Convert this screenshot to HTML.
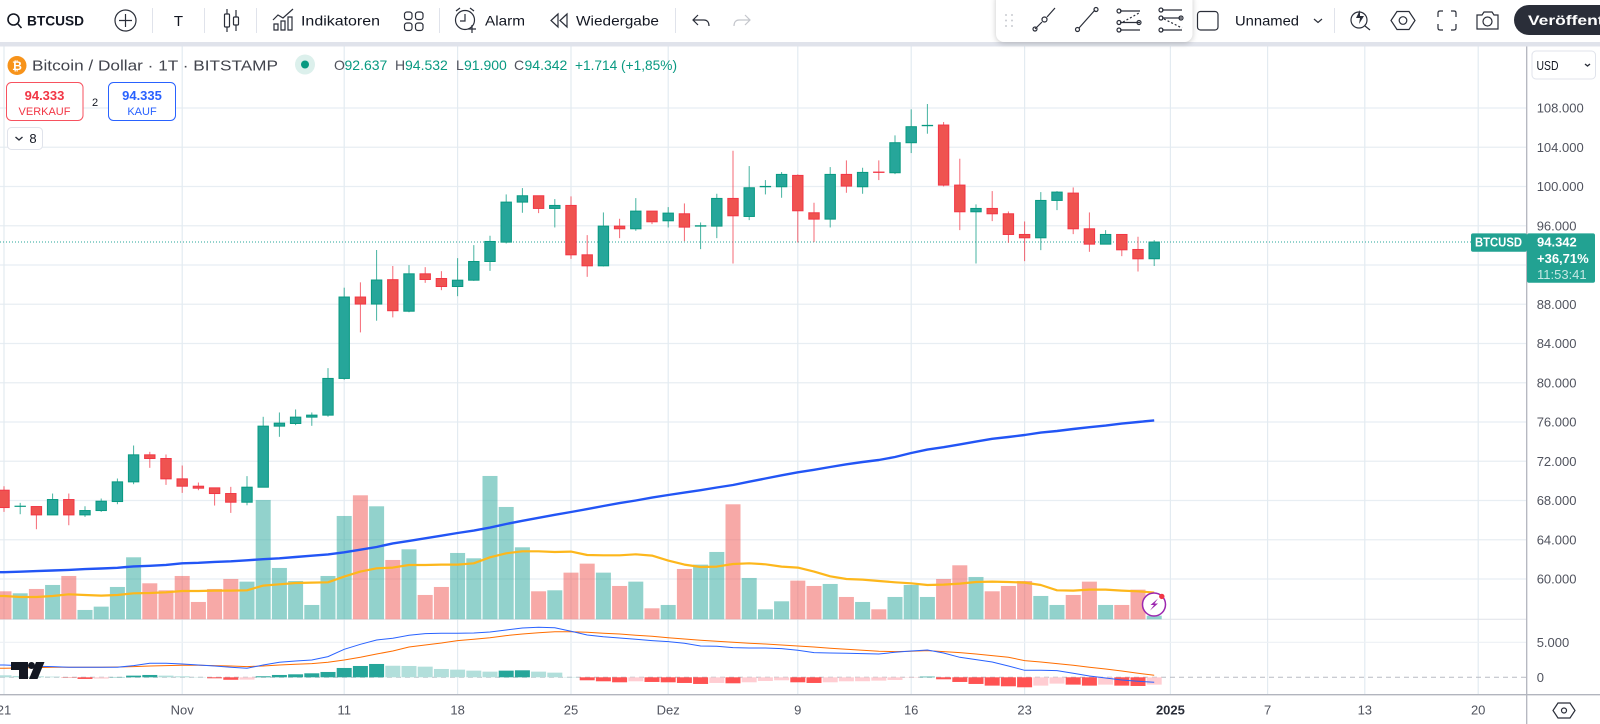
<!DOCTYPE html>
<html lang="de">
<head>
<meta charset="utf-8">
<title>BTCUSD Chart</title>
<style>
html,body{margin:0;padding:0;background:#fff;width:1600px;height:724px;overflow:hidden}
svg{display:block;font-family:"Liberation Sans",sans-serif}
text{fill:#131722}
.ic{fill:none;stroke:#2a2e39;stroke-width:1.2}
.ax{font-size:13px;fill:#50535e}
</style>
</head>
<body>
<svg id="chart" width="1600" height="724" viewBox="0 0 1600 724" xmlns="http://www.w3.org/2000/svg">
<g id="plot"></g>

<!-- top toolbar -->
<g>
<rect x="0" y="0" width="1600" height="42" fill="#fff"/>
<rect x="0" y="42" width="1600" height="4.5" fill="#e0e3eb"/>
<g>
<circle class="ic" cx="13.5" cy="19.5" r="5.5" style="stroke:#131722;stroke-width:1.6"/><path class="ic" d="M17.5 23.5L21.5 28" style="stroke:#131722;stroke-width:1.6"/>
<text x="27" y="25.5" font-size="14" font-weight="bold" textLength="57" lengthAdjust="spacingAndGlyphs">BTCUSD</text></g>
<g><circle class="ic" cx="125.5" cy="20.5" r="10.5"/><path class="ic" d="M125.5 14v13M119 20.5h13"/></g>
<rect x="152" y="8" width="1" height="25" fill="#e0e3eb"/>
<text x="178.5" y="26" font-size="15" text-anchor="middle">T</text>
<rect x="204" y="8" width="1" height="25" fill="#e0e3eb"/>
<g><rect class="ic" x="224.5" y="14" width="5" height="13" rx="1"/><path class="ic" d="M227 9v5M227 27v5M236 10v7M236 25v6"/><rect class="ic" x="233.5" y="17" width="5" height="8" rx="1"/></g>
<rect x="256" y="8" width="1" height="25" fill="#e0e3eb"/>
<g><path class="ic" d="M273 20l5-5 5 3 10-9M274 24h4v6h-4zM281 21h4v9h-4zM288 17h4v13h-4z"/>
<text x="301" y="25.5" font-size="14" textLength="79" lengthAdjust="spacingAndGlyphs">Indikatoren</text></g>
<g><rect class="ic" x="404.5" y="12" width="7.5" height="7.5" rx="2.5"/><rect class="ic" x="415.5" y="12" width="7.5" height="7.5" rx="2.5"/><rect class="ic" x="404.5" y="23" width="7.5" height="7.5" rx="2.5"/><rect class="ic" x="415.5" y="23" width="7.5" height="7.5" rx="2.5"/></g>
<rect x="439" y="8" width="1" height="25" fill="#e0e3eb"/>
<g><circle class="ic" cx="465" cy="20" r="9.5"/><path class="ic" d="M465 14v7h-5M456 11l4-3M474 11l-4-3M472 25v8M468 29h8"/>
<text x="485" y="25.5" font-size="14" textLength="40" lengthAdjust="spacingAndGlyphs">Alarm</text></g>
<g><path class="ic" d="M558 14l-7 6.500 7 6.500zM567 14l-7 6.500 7 6.500z"/>
<text x="576" y="25.5" font-size="14" textLength="83" lengthAdjust="spacingAndGlyphs">Wiedergabe</text></g>
<rect x="675" y="8" width="1" height="25" fill="#e0e3eb"/>
<path class="ic" d="M698 15l-5 5 5 5M693 20h11c3 0 5 2 5 6"/>
<path class="ic" style="stroke:#c4c6cc" d="M745 15l5 5-5 5M750 20h-11c-3 0-5 2-5 6"/>
<g>
<rect x="996" y="-8" width="196.500" height="50" rx="8" fill="#fff" style="filter:drop-shadow(0 1px 3px rgba(0,0,0,.22))"/>
<g fill="#c9cbd1"><circle cx="1006" cy="15" r="1"/><circle cx="1012" cy="15" r="1"/><circle cx="1006" cy="20.500" r="1"/><circle cx="1012" cy="20.500" r="1"/><circle cx="1006" cy="26" r="1"/><circle cx="1012" cy="26" r="1"/></g>
<g><path class="ic" d="M1035 29l7-7M1047 17l8-9"/><circle class="ic" cx="1035" cy="29" r="2"/><circle class="ic" cx="1044.500" cy="19.500" r="2.500"/></g>
<g><path class="ic" d="M1079 28l16-18"/><circle class="ic" cx="1077.500" cy="29.500" r="2"/><circle class="ic" cx="1096" cy="9.500" r="2"/></g>
<g><path class="ic" d="M1120 11h20M1120 22.500h20M1120 30h20"/><path class="ic" stroke-dasharray="2 2" d="M1123 22l16-9"/><circle class="ic" cx="1119" cy="11" r="2"/><circle class="ic" cx="1119" cy="22.500" r="2"/><circle class="ic" cx="1139" cy="22.500" r="2"/><circle class="ic" cx="1119" cy="30" r="2"/></g>
<g><path class="ic" d="M1162 10h20M1162 18h20M1162 30h20"/><path class="ic" stroke-dasharray="2 2" d="M1164 19l18 9"/><circle class="ic" cx="1161" cy="10" r="2"/><circle class="ic" cx="1161" cy="18" r="2"/><circle class="ic" cx="1181" cy="18" r="2"/><circle class="ic" cx="1161" cy="30" r="2"/></g>
</g>
<rect class="ic" x="1197.500" y="11.500" width="20.500" height="18.500" rx="3"/>
<text x="1235" y="25.500" font-size="14" textLength="64" lengthAdjust="spacingAndGlyphs">Unnamed</text>
<path class="ic" d="M1314 19l4 3.500 4-3.500"/>
<rect x="1334" y="8" width="1" height="25" fill="#e0e3eb"/>
<g><circle class="ic" cx="1359" cy="20" r="8"/><path class="ic" d="M1365 26l5 4"/><path d="M1360 10l-4 8h4l-1 6 5-8h-4z" fill="#2a2e39"/></g>
<g><path class="ic" d="M1397 11.500h12l6 9-6 9h-12l-6-9z"/><circle class="ic" cx="1403" cy="20.500" r="3.800"/></g>
<path class="ic" d="M1438 17v-4q0-2 2-2h3M1451 11h3q2 0 2 2v4M1456 24v4q0 2-2 2h-3M1443 30h-3q-2 0-2-2v-4"/>
<g><path class="ic" d="M1477 15h5l2-3h8l2 3h4v14h-21z"/><circle class="ic" cx="1487.500" cy="21.500" r="4.500"/></g>
<g><rect x="1514" y="5" width="130" height="30" rx="15" fill="#2a2e39"/>
<text x="1528" y="25" font-size="14" font-weight="bold" textLength="126" lengthAdjust="spacingAndGlyphs" style="fill:#fff">Veröffentlichen</text></g>
</g>

<!-- legend -->
<g>
<circle cx="17" cy="65.500" r="9.500" fill="#f7931a"/>
<text x="17" y="70" font-size="12" font-weight="bold" text-anchor="middle" style="fill:#fff">₿</text>
<text x="32" y="70.500" font-size="15" style="fill:#42444d" textLength="246" lengthAdjust="spacingAndGlyphs">Bitcoin / Dollar · 1T · BITSTAMP</text>
<circle cx="305" cy="64.500" r="10" fill="#dcf0ec"/><circle cx="305" cy="64.500" r="4" fill="#089981"/>
<g font-size="14">
<text x="334" y="70" style="fill:#50535e">O</text><text x="344.500" y="70" style="fill:#089981">92.637</text>
<text x="395" y="70" style="fill:#50535e">H</text><text x="405" y="70" style="fill:#089981">94.532</text>
<text x="456" y="70" style="fill:#50535e">L</text><text x="464" y="70" style="fill:#089981">91.900</text>
<text x="514" y="70" style="fill:#50535e">C</text><text x="524.500" y="70" style="fill:#089981">94.342</text>
<text x="575" y="70" style="fill:#089981" textLength="102" lengthAdjust="spacingAndGlyphs">+1.714 (+1,85%)</text>
</g>
<g><rect x="6.500" y="82.500" width="76.500" height="38" rx="5" fill="#fff" stroke="#f7525f"/>
<text x="44.500" y="100" font-size="13" font-weight="bold" text-anchor="middle" style="fill:#f23645">94.333</text>
<text x="44.500" y="115" font-size="11" text-anchor="middle" style="fill:#f23645">VERKAUF</text></g>
<text x="95" y="106" font-size="11" text-anchor="middle">2</text>
<g><rect x="108.500" y="82.500" width="67" height="38" rx="5" fill="#fff" stroke="#2962ff"/>
<text x="142" y="100" font-size="13" font-weight="bold" text-anchor="middle" style="fill:#2962ff">94.335</text>
<text x="142" y="115" font-size="11" text-anchor="middle" style="fill:#2962ff">KAUF</text></g>
<g><rect x="7.500" y="127.500" width="35" height="22" rx="4" fill="#fff" stroke="#e0e3eb"/>
<path class="ic" d="M15.500 137l3.500 3 3.500-3" style="stroke-width:1.400"/><text x="33" y="143" font-size="13" text-anchor="middle">8</text></g>
</g>

<!-- right axis controls -->
<g><rect x="1532" y="51" width="63.500" height="28" rx="4" fill="#fff" stroke="#e0e3eb"/>
<text x="1536.500" y="70" font-size="13" textLength="22" lengthAdjust="spacingAndGlyphs">USD</text>
<path class="ic" d="M1585 64l2.500 2 2.500-2" style="stroke-width:1.400"/></g>
<path class="ic" d="M1558 703h12l5 7.500-5 7.500h-12l-5-7.500z"/>
<circle class="ic" cx="1564" cy="710.500" r="2.500"/>

<!-- TradingView logo -->
<g fill="#131722">
<path d="M11 662h17v17h-9v-9h-8z"/><circle cx="31.500" cy="665.500" r="3.500"/><path d="M36 662h8.500l-7 17h-8.500z"/></g>

<!-- lightning badge -->
<g>
<circle cx="1154" cy="604.500" r="11.500" fill="#fff" stroke="#9c27b0" stroke-width="1.500"/>
<path d="M1158 598.500l-7.500 6.500h3.500l-4 5.500 8-7h-3.500z" fill="#9c27b0"/>
<circle cx="1161.800" cy="596.400" r="2.700" fill="#f23645"/></g>

<script>
const tickPrices = [108000,104000,100000,96000,92000,88000,84000,80000,76000,72000,68000,64000,60000];
const timeTickIndex = [0,11,21,28,35,41,49,56,63,72,78,84,91];
const timeTickLabels = ['21','Nov','11','18','25','Dez','9','16','23','2025','7','13','20'];
const macdTickValues = [5000,0];
const macdTickLabels = ['5.000','0'];
const lastPrice = 94342;

const dates = ['21.10','22.10','23.10','24.10','25.10','26.10','27.10','28.10','29.10','30.10','31.10',
'01.11','02.11','03.11','04.11','05.11','06.11','07.11','08.11','09.11','10.11','11.11','12.11','13.11','14.11','15.11','16.11','17.11','18.11','19.11','20.11','21.11','22.11','23.11','24.11','25.11','26.11','27.11','28.11','29.11','30.11',
'01.12','02.12','03.12','04.12','05.12','06.12','07.12','08.12','09.12','10.12','11.12','12.12','13.12','14.12','15.12','16.12','17.12','18.12','19.12','20.12','21.12','22.12','23.12','24.12','25.12','26.12','27.12','28.12','29.12','30.12','31.12'];

const opens = [69050,67400,67384,66534,68098,66534,66976,67894,69900,72654,72280,70206,69458,69288,68710,67826,69356,75578,75850,76496,76700,80440,88736,88022,90504,87292,91100,90624,89808,90454,92358,94330,98410,99056,97764,98070,93038,91916,95962,95690,97492,96506,97220,95962,95962,98784,96948,99974,99974,101130,97322,96676,101232,99974,101470,101402,104462,106196,106264,100144,97424,97764,97220,95112,94772,98580,99328,95690,94126,95112,93582,92637];
const highs = [69458,67758,67384,68710,68710,67418,68200,70240,73606,72960,72688,71566,69832,69288,69390,70478,76530,76972,77278,76972,81494,89688,90232,93530,91898,91984,91780,91372,92698,94024,94976,99192,99838,99056,98716,98988,95044,97356,96710,98818,97492,97900,98274,96336,99260,103646,102082,100654,101470,101232,98342,101980,102660,101912,102660,105210,107862,108406,106570,102830,98172,99532,97458,96438,99430,99532,99906,97356,95554,95112,94874,94532];
const lows = [66840,66602,65072,66534,65480,66330,66840,67622,69662,71328,69594,68778,69050,67486,66738,67520,69356,74490,75680,75612,76530,80304,85132,86322,86662,87190,90182,89434,88822,90386,91406,94194,97322,97288,95826,92630,90794,91848,94738,95486,96166,95826,94432,93616,94738,92154,96574,99192,98852,94296,94330,95826,99362,99260,100654,101266,103408,105380,100008,95554,92154,96472,94262,92392,93514,97594,95146,93344,94126,92902,91338,91900];
const closes = [67282,67420,66534,68098,66534,66976,67928,69900,72654,72280,70206,69458,69254,68710,67826,69356,75578,75884,76496,76700,80440,88736,88022,90470,87342,91100,90522,89808,90454,92358,94398,98410,99056,97764,98070,93038,91916,95962,95690,97492,96404,97288,95860,96000,98784,97016,99872,100008,101232,97526,96676,101232,100042,101436,101436,104462,106094,106230,100144,97424,97764,97220,95112,94772,98580,99430,95690,94126,95112,93548,92630,94342];

const volumes = [8400,7800,9100,10300,13000,2800,3800,9700,18600,10800,8700,13000,5200,9100,12100,11300,35800,15400,11500,4300,13000,31000,37200,33900,17800,21000,7300,9700,19900,18300,43000,33700,21600,8400,8700,14000,16700,14000,10000,11300,3300,4300,15100,16400,20200,34500,12400,3000,5400,11600,10000,10600,6700,5200,3000,6700,10300,6700,12100,16200,12700,8400,10000,11500,7000,4300,7300,11300,4300,4300,8900,1100];
const volumeMa = [7000,6700,6700,7000,7500,7300,7100,7300,7800,7900,8100,8500,8500,8600,8600,8700,10100,10500,10900,11000,11100,12800,14300,15300,15500,16300,16300,16400,16400,16800,18600,19800,20400,20400,20200,20300,19300,19200,19200,19500,19100,17600,16400,15700,15800,16600,16800,16500,15800,15500,14300,12900,12100,11900,11500,11100,10800,10300,10400,10700,11200,11300,11200,11000,10300,8700,8600,8900,8900,8600,8400,8000];

const ma200 = [60688,60739,60800,60871,60932,61004,61065,61146,61279,61350,61432,61595,61656,61738,61799,61901,62013,62105,62247,62370,62512,62726,62981,63266,63623,63878,64143,64408,64692,64937,65243,65610,65936,66241,66547,66832,67120,67444,67730,67995,68300,68565,68810,69053,69320,69583,69920,70245,70570,70876,71132,71417,71692,71927,72131,72436,72843,73190,73435,73720,74005,74290,74474,74678,74922,75085,75290,75473,75636,75840,76003,76167];

const macdLine = [1761,1666,1571,1523,1428,1428,1428,1428,1666,1999,1999,1904,1761,1618,1428,1285,1761,2142,2332,2475,2951,3998,4712,5331,5569,5998,6236,6283,6283,6331,6474,6759,7045,7140,7092,6569,6045,5807,5617,5426,5236,5093,4855,4474,4427,4236,4189,4189,4094,3856,3522,3475,3427,3380,3332,3570,3760,3903,3475,2856,2523,2190,1618,1000,1000,952,571,190,-95,-381,-571,-714];
const signalLine = [1285,1333,1380,1428,1428,1428,1428,1476,1523,1618,1666,1714,1714,1666,1618,1523,1618,1761,1856,1952,2142,2475,2856,3332,3760,4332,4617,4903,5236,5426,5664,5950,6188,6378,6521,6521,6426,6283,6188,5998,5855,5664,5474,5284,5141,4998,4855,4760,4617,4474,4332,4141,3998,3856,3713,3665,3713,3808,3665,3522,3332,3094,2856,2380,2190,1952,1714,1428,1190,904,571,286];
const macdHist = [286,190,143,95,-48,-238,-190,48,238,333,238,143,48,-143,-357,-333,143,333,428,571,762,1333,1618,1904,1650,1620,1523,1190,1095,952,809,952,1000,809,666,48,-428,-571,-714,-571,-666,-714,-809,-952,-809,-857,-714,-524,-428,-714,-809,-714,-571,-560,-476,-381,-48,95,-286,-666,-952,-1190,-1285,-1428,-1190,-904,-1047,-1190,-1047,-1190,-1238,-1047];

const NS = 'http://www.w3.org/2000/svg';
const plot = document.getElementById('plot');
const svgRoot = document.getElementById('chart');

function xOf(i){ return 4 + 16.2 * i; }
function yPrice(p){ return 108 + (108000 - p) * 0.0098125; }
function yVol(v){ return 619.3 - v / 300; }
function yMacd(v){ return 677.3 - v * 0.007; }

function mk(tag, attrs, parent){
  const el = document.createElementNS(NS, tag);
  for (const k in attrs) el.setAttribute(k, attrs[k]);
  (parent || plot).appendChild(el);
  return el;
}

/* grid */
tickPrices.forEach(function(p){
  const el = mk('line', {x1:0, x2:1526, y1:yPrice(p), y2:yPrice(p), stroke:'#e8eef3', 'stroke-width':1.2});
  
  
});
timeTickIndex.forEach(function(i){
  const el = mk('line', {x1:xOf(i), x2:xOf(i), y1:46, y2:694, stroke:'#e3ebf1', 'stroke-width':1.2});
  
  
});
{
  const g5 = mk('line', {x1:0, x2:1526, y1:yMacd(macdTickValues[0]), y2:yMacd(macdTickValues[0]), stroke:'#edf1f5', 'stroke-width':1.2});
  
  
  const g0 = mk('line', {x1:0, x2:1526, y1:yMacd(0), y2:yMacd(0), stroke:'#b8bbc4', 'stroke-width':1, 'stroke-dasharray':'5 4'});
  
  
  const sep = mk('line', {x1:0, x2:1526, y1:619.3, y2:619.3, stroke:'#dfe2e8', 'stroke-width':1});
  
  
}

/* volume */
volumes.forEach(function(v, i){
  const up = closes[i] >= opens[i];
  const el = mk('rect', {x:xOf(i)-7.5, y:yVol(v), width:15, height:v/300, fill: up ? 'rgba(38,166,154,.5)' : 'rgba(239,83,80,.5)'});
  
  
});

function linePath(values, yFn){
  const start = 'M0 ' + yFn(values[0]).toFixed(1);
  return start + values.map(function(v, i){ return 'L' + xOf(i).toFixed(1) + ' ' + yFn(v).toFixed(1); }).join('');
}
const volMaEl = mk('path', {d:linePath(volumeMa, yVol), fill:'none', stroke:'#fdb71c', 'stroke-width':2.2, 'stroke-linejoin':'round'});


const maEl = mk('path', {d:linePath(ma200, yPrice), fill:'none', stroke:'#2255f5', 'stroke-width':2.4, 'stroke-linejoin':'round'});



/* last price line */
const lastLine = mk('line', {x1:0, x2:1471, y1:yPrice(lastPrice), y2:yPrice(lastPrice), stroke:'#26a69a', 'stroke-width':1, 'stroke-dasharray':'1 2'});



/* candles */
closes.forEach(function(c, i){
  const o = opens[i];
  const up = c >= o;
  const edge = up ? '#089981' : '#f23645';
  const fill = up ? '#26a69a' : '#ef5350';
  const x = xOf(i);
  const wick = mk('line', {x1:x, x2:x, y1:yPrice(highs[i]), y2:yPrice(lows[i]), stroke:edge, 'stroke-width':1, 'stroke-opacity':.75});
  
  
  const top = yPrice(Math.max(o, c));
  const h = Math.abs(yPrice(o) - yPrice(c));
  const body = mk('rect', {x:x-5.2, y:top, width:10.4, height:h, fill:fill, stroke:edge, 'stroke-width':1});
  
  
});

/* macd */
macdHist.forEach(function(v, i){
  const prev = i ? macdHist[i-1] : v;
  let col;
  if (v >= 0) col = v > prev ? '#26a69a' : '#b2dfdb';
  else col = v < prev ? '#ff5252' : '#ffcdd2';
  const y0 = yMacd(Math.max(v, 0));
  const el = mk('rect', {x:xOf(i)-7.5, y:y0, width:15, height:Math.abs(yMacd(v)-yMacd(0)), fill:col});
  
  
});
const sigEl = mk('path', {d:linePath(signalLine, yMacd), fill:'none', stroke:'#ff6d00', 'stroke-width':1});


const macdEl = mk('path', {d:linePath(macdLine, yMacd), fill:'none', stroke:'#2962ff', 'stroke-width':1});



/* axes */
const timeAxis = mk('line', {x1:0, x2:1600, y1:694.7, y2:694.7, stroke:'#b2b5be', 'stroke-width':1.3});


const priceAxis = mk('line', {x1:1526.7, x2:1526.7, y1:46.5, y2:724, stroke:'#b2b5be', 'stroke-width':1.3});



tickPrices.forEach(function(p){
  const t = mk('text', {x:1536.7, y:yPrice(p)+4.5, class:'ax'});
  t.textContent = String(p).replace(/(\d{3})$/, '.$1');
  
  
});
macdTickValues.forEach(function(v, k){
  const t = mk('text', {x:1536.7, y:yMacd(v)+4.5, class:'ax'});
  t.textContent = macdTickLabels[k];
  
  
});
timeTickIndex.forEach(function(i, k){
  const isYear = timeTickLabels[k] === '2025';
  const t = mk('text', {x:xOf(i), y:714.5, class:'ax', 'text-anchor':'middle'});
  t.textContent = timeTickLabels[k];
  if (isYear) { t.setAttribute('font-weight', 'bold'); t.style.fill = '#2a2e39'; }
  
  
});

/* last price tags */
const tagTop = yPrice(lastPrice) - 8.7;
const symTag = mk('rect', {x:1471, y:tagTop, width:56, height:18.4, rx:2, fill:'#22a292'});


const priceTag = mk('rect', {x:1527, y:tagTop, width:68, height:49.4, rx:2, fill:'#22a292'});


const symText = mk('text', {x:1475, y:yPrice(lastPrice)+4.6, 'font-size':13, 'font-weight':'bold', textLength:47, lengthAdjust:'spacingAndGlyphs'});
symText.style.fill = '#fff';
symText.textContent = 'BTCUSD';


const tagLines = [
  String(lastPrice).replace(/(\d{3})$/, '.$1'),
  '+36,71%',
  '11:53:41'
];
tagLines.forEach(function(s, k){
  const t = mk('text', {x:1537, y:yPrice(lastPrice)+4.6+k*16.3, 'font-size':13, 'font-weight': k < 2 ? 'bold' : 'normal'});
  t.style.fill = k === 2 ? '#c4e8e3' : '#fff';
  t.textContent = s;
  
  
});
</script>
</svg>
</body>
</html>
